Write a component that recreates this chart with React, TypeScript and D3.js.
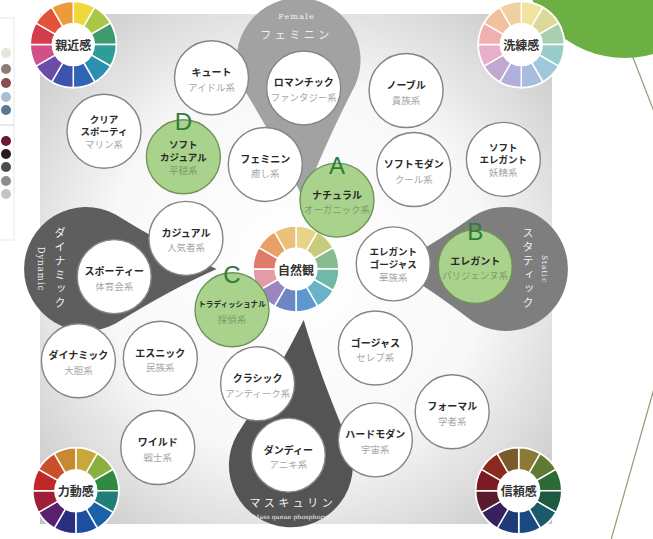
import React, { useEffect, useRef } from "react";
import * as d3 from "d3";

// image map: x = dynamic(-100) .. static(100), y = female(-100) .. masculine(100)
const styleNames = [
  "キュート", "ロマンチック", "ノーブル", "クリア\nスポーティ", "ソフト\nカジュアル",
  "フェミニン", "ナチュラル", "ソフトモダン", "ソフト\nエレガント", "カジュアル",
  "スポーティー", "エレガント\nゴージャス", "エレガント", "トラディッショナル", "ダイナミック",
  "エスニック", "クラシック", "ゴージャス", "フォーマル", "ワイルド",
  "ダンディー", "ハードモダン",
];
const styleTypes = [
  "アイドル系", "ファンタジー系", "貴族系", "マリン系", "平穏系",
  "癒し系", "オーガニック系", "クール系", "妖精系", "人気者系",
  "体育会系", "華族系", "パリジェンヌ系", "探偵系", "大胆系",
  "民族系", "アンティーク系", "セレブ系", "学者系", "戦士系",
  "アニキ系", "宇宙系",
];
const styleX = [-33, 3, 43, -75, -44, -12, 16, 46, 81, -43, -71, 38, 70, -25, -85, -53, -15, 31, 61, -54, -3, 31];
const styleY = [-75, -71, -70, -54, -44, -41, -27, -39, -43, -12, 3, -2, -1, 16, 36, 35, 45, 31, 56, 70, 73, 67];
const styleMark = ["", "", "", "", "D", "", "A", "", "", "", "", "", "B", "C", "", "", "", "", "", "", "", ""];

const wheelNames = ["親近感", "洗練感", "自然観", "力動感", "信頼感"];
const wheelX = [-87, 88, 0, -86, 87];
const wheelY = [-88, -88, 0, 87, 87];
// 12 hues each, clockwise from 12 o'clock
const wheelColors = [
  ["#efd83a", "#a9c746", "#3f9a6e", "#2f9c95", "#2a8fb0", "#3065b5", "#3e52b0", "#6c4ca8", "#d2508a", "#d23c4c", "#e2543a", "#ec9a3a"],
  ["#f0e4a0", "#dcd89a", "#a8d0b0", "#98ccc8", "#a0c8dc", "#a8bce0", "#b0b0dc", "#c0a8d0", "#e8b0c8", "#f0b0b0", "#f0c0a0", "#f0d0a0"],
  ["#e8d488", "#c8cc7a", "#88bc8e", "#72b8a8", "#6ab2c8", "#5e96d0", "#6f86c4", "#9a86c0", "#e49aa8", "#e07a6a", "#e8a066", "#ecc07a"],
  ["#c8a838", "#8ab040", "#2e8a3e", "#1e7e78", "#1a62a8", "#1e4ea0", "#2a2e80", "#5a2070", "#a01e3a", "#c02828", "#c8502a", "#c88a30"],
  ["#8a7a34", "#5e7a34", "#2e6a36", "#1e5a40", "#1a5a6a", "#1a4a82", "#1e3a78", "#36205e", "#5a1a30", "#7a1a22", "#8a2a1e", "#7a5a2a"],
];

const axisNames = ["フェミニン", "スタティック", "マスキュリン", "ダイナミック"];
const axisSubs = ["Female", "Static", "Mass qanae phosphorus", "Dynamic"];
const dropX = [1, 82, -2, -82];
const dropY = [-82, 0, 77, 0];
const tipX = [3, 37, 3, -31];
const tipY = [-27, -1, 20, 0];

const swatchColors = ["#e8e4d8", "#8c7c74", "#8a4a52", "#a8bed4", "#5a7a94", "#6a1a36", "#2a1c1c", "#4c4c4c", "#8e8e8e", "#c4c4c4"];

const W = 653;
const H = 539;
const dropFill = ["#a2a2a2", "#7e7e7e", "#545454", "#5e5e5e"];

const App: React.FC = () => {
  const svgRef = useRef<SVGSVGElement>(null);

  useEffect(() => {
    if (!svgRef.current) return;
    const svg = d3.select(svgRef.current);
    svg.selectAll("*").remove();
    svg.attr("width", W).attr("height", H).attr("viewBox", `0 0 ${W} ${H}`);

    const x = d3.scaleLinear().domain([-100, 100]).range([40, 552]);
    const y = d3.scaleLinear().domain([-100, 100]).range([14, 524]);
    const font = "'Noto Sans CJK JP', 'Noto Sans', sans-serif";
    const serif = "'DejaVu Serif', 'Liberation Serif', serif";

    const defs = svg.append("defs");
    const grad = defs.append("radialGradient").attr("id", "bg").attr("cx", "50%").attr("cy", "50%").attr("r", "74%");
    grad.append("stop").attr("offset", "0%").attr("stop-color", "#ffffff");
    grad.append("stop").attr("offset", "50%").attr("stop-color", "#f8f8f8");
    grad.append("stop").attr("offset", "100%").attr("stop-color", "#bdbdbd");

    svg.append("rect").attr("width", W).attr("height", H).attr("fill", "#ffffff");
    svg.append("rect")
      .attr("x", x(-100)).attr("y", y(-100))
      .attr("width", x(100) - x(-100)).attr("height", y(100) - y(-100))
      .attr("fill", "url(#bg)");

    // swatch strip on the left edge
    svg.append("rect").attr("x", -1).attr("y", 18).attr("width", 15).attr("height", 222)
      .attr("fill", "none").attr("stroke", "#e6e6e6");
    svg.append("line").attr("x1", 0).attr("x2", 14).attr("y1", 125).attr("y2", 125).attr("stroke", "#d0d0d0");
    const swY = [53, 69, 83, 97, 110, 141, 154, 167, 181, 194];
    swatchColors.forEach((c, i) => {
      svg.append("circle").attr("cx", 6).attr("cy", swY[i]).attr("r", 5).attr("fill", c);
    });

    // decoration top right
    svg.append("line").attr("x1", 632).attr("y1", 55).attr("x2", 655).attr("y2", 114)
      .attr("stroke", "#8f9a78").attr("stroke-width", 1.2);
    svg.append("line").attr("x1", 655).attr("y1", 385).attr("x2", 611).attr("y2", 540)
      .attr("stroke", "#8f9a78").attr("stroke-width", 1.2);
    svg.append("circle").attr("cx", 625).attr("cy", -45).attr("r", 103).attr("fill", "#6cb044");

    // tear drops
    const R = 62;
    axisNames.forEach((_, i) => {
      const cx = x(dropX[i]), cy = y(dropY[i]);
      const tx = x(tipX[i]), ty = y(tipY[i]);
      const d = Math.hypot(tx - cx, ty - cy);
      const th = Math.atan2(ty - cy, tx - cx);
      const a = Math.acos(R / d);
      const p1 = [cx + R * Math.cos(th + a), cy + R * Math.sin(th + a)];
      const p2 = [cx + R * Math.cos(th - a), cy + R * Math.sin(th - a)];
      const ax = (k: number) => [cx + (tx - cx) * k, cy + (ty - cy) * k];
      const ctrl = (p: number[]) => {
        const m = [(p[0] + tx) / 2, (p[1] + ty) / 2];
        const q = ax(0.75);
        return [m[0] * 0.75 + q[0] * 0.25, m[1] * 0.75 + q[1] * 0.25];
      };
      const c1 = ctrl(p1), c2 = ctrl(p2);
      const path = `M${tx},${ty} Q${c1[0]},${c1[1]} ${p1[0]},${p1[1]} A${R},${R} 0 1 1 ${p2[0]},${p2[1]} Q${c2[0]},${c2[1]} ${tx},${ty} Z`;
      svg.append("path").attr("d", path).attr("fill", dropFill[i]);
    });

    // colour wheels
    const arc = d3.arc<number>()
      .innerRadius(21).outerRadius(43)
      .startAngle((k) => (k * Math.PI) / 6)
      .endAngle((k) => ((k + 1) * Math.PI) / 6);
    wheelNames.forEach((name, i) => {
      const g = svg.append("g").attr("transform", `translate(${x(wheelX[i])},${y(wheelY[i])})`);
      g.append("circle").attr("r", 44).attr("fill", "#ffffff");
      g.selectAll("path.seg").data(d3.range(12)).join("path")
        .attr("d", (k) => arc(k) as string)
        .attr("fill", (k) => wheelColors[i][k])
        .attr("stroke", "#ffffff").attr("stroke-width", 1.5);
      g.append("circle").attr("r", 21).attr("fill", "#ffffff");
      g.append("text").text(name)
        .attr("text-anchor", "middle").attr("dominant-baseline", "central")
        .attr("font-family", font).attr("font-weight", 700).attr("font-size", 12).attr("fill", "#333");
    });

    // style circles
    styleNames.forEach((name, i) => {
      const g = svg.append("g").attr("transform", `translate(${x(styleX[i])},${y(styleY[i])})`);
      const hi = styleMark[i] !== "";
      g.append("circle").attr("r", 37)
        .attr("fill", hi ? "#a9d28c" : "#ffffff")
        .attr("stroke", hi ? "#6f9456" : "#858585").attr("stroke-width", 1.4);
      const lines = name.split("\n");
      const n = lines.length;
      const maxLen = d3.max(lines, (l) => l.length) || 1;
      const fs = Math.min(n === 1 ? 10 : 9.5, 68 / maxLen);
      lines.forEach((l, j) => {
        g.append("text").text(l)
          .attr("y", (n === 1 ? -6 : -12.5) + j * 12.5)
          .attr("text-anchor", "middle").attr("dominant-baseline", "central")
          .attr("font-family", font).attr("font-weight", 700).attr("font-size", fs).attr("fill", "#2a2a2a");
      });
      const t = styleTypes[i];
      g.append("text").text(t)
        .attr("y", n === 1 ? 9 : 13)
        .attr("text-anchor", "middle").attr("dominant-baseline", "central")
        .attr("font-family", font).attr("font-size", Math.min(9.5, 66 / t.length))
        .attr("fill", hi ? "#7d9a6a" : "#a6a6a6");
      if (hi) {
        g.append("text").text(styleMark[i])
          .attr("y", -35)
          .attr("text-anchor", "middle").attr("dominant-baseline", "central")
          .attr("font-family", "'Liberation Sans', Arial, sans-serif").attr("font-size", 24)
          .attr("fill", "#2e7d3a");
      }
    });

    // axis labels in the drops
    const lab = "#f2f2f2";
    // Female (top)
    svg.append("text").text(axisSubs[0])
      .attr("x", x(dropX[0]) - 2).attr("y", 16)
      .attr("text-anchor", "middle").attr("dominant-baseline", "central")
      .attr("font-family", serif).attr("font-size", 8).attr("letter-spacing", 1.2).attr("fill", lab);
    svg.append("text").text(axisNames[0])
      .attr("x", x(dropX[0]) - 2).attr("y", 34)
      .attr("text-anchor", "middle").attr("dominant-baseline", "central")
      .attr("font-family", font).attr("font-size", 11).attr("letter-spacing", 3.5).attr("fill", lab);
    // Masculine (bottom)
    svg.append("text").text(axisNames[2])
      .attr("x", x(dropX[2]) + 2).attr("y", 502)
      .attr("text-anchor", "middle").attr("dominant-baseline", "central")
      .attr("font-family", font).attr("font-size", 11).attr("letter-spacing", 3.5).attr("fill", lab);
    svg.append("text").text(axisSubs[2])
      .attr("x", x(dropX[2]) + 1).attr("y", 516)
      .attr("text-anchor", "middle").attr("dominant-baseline", "central")
      .attr("textLength", 78).attr("lengthAdjust", "spacingAndGlyphs")
      .attr("font-family", serif).attr("font-size", 6).attr("fill", lab);
    // Dynamic (left) and Static (right), vertical
    const vert = (i: number, dx: number, sdx: number) => {
      const cx = x(dropX[i]);
      const cy = y(dropY[i]);
      svg.append("text").text(axisNames[i])
        .attr("x", cx + dx).attr("y", cy)
        .attr("text-anchor", "middle")
        .style("writing-mode", "vertical-rl")
        .attr("font-family", font).attr("font-size", 11).attr("letter-spacing", 3).attr("fill", lab);
      svg.append("text").text(axisSubs[i])
        .attr("transform", `translate(${cx + sdx},${cy}) rotate(90)`)
        .attr("text-anchor", "middle").attr("dominant-baseline", "central")
        .attr("font-family", serif).attr("font-size", i === 1 ? 7.5 : 8.5).attr("letter-spacing", 1).attr("fill", lab);
    };
    vert(3, -26, -45);
    vert(1, 22, 39);
  }, []);

  return <svg ref={svgRef} style={{ position: "absolute", left: 0, top: 0 }} />;
};

export default App;
